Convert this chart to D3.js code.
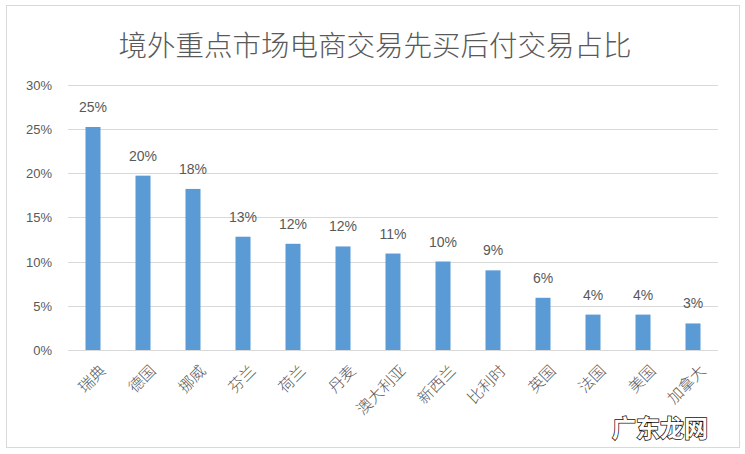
<!DOCTYPE html>
<html><head><meta charset="utf-8">
<script src="https://cdn.jsdelivr.net/npm/d3@7"></script>
<style>
body{margin:0;background:#fff;}
svg{display:block;}
</style></head>
<body>
<svg id="chart" width="745" height="454"></svg>
<script>
const title = "境外重点市场电商交易先买后付交易占比";
const categories = ["瑞典","德国","挪威","芬兰","荷兰","丹麦","澳大利亚","新西兰","比利时","英国","法国","美国","加拿大"];
const values = [0.252,0.197,0.182,0.128,0.120,0.117,0.109,0.100,0.090,0.059,0.040,0.040,0.030];
const labels = ["25%","20%","18%","13%","12%","12%","11%","10%","9%","6%","4%","4%","3%"];
const yTicks = [0,0.05,0.10,0.15,0.20,0.25,0.30];
const watermark = "广东龙网";

const svg = d3.select("#chart");
const textColor = "#595959";
const numFont = "'Liberation Sans','Noto Sans CJK SC',sans-serif";
const cjkFont = "'Noto Sans CJK SC','Noto Sans',sans-serif";

svg.append("rect").attr("x",6.5).attr("y",5.5).attr("width",733).attr("height",442)
  .attr("fill","#fff").attr("stroke","#d9d9d9").attr("stroke-width",1);

svg.append("text").attr("x",375).attr("y",56).attr("text-anchor","middle")
  .attr("font-family",cjkFont).attr("font-size",28.5).attr("font-weight",300)
  .attr("fill",textColor).text(title);

const x = d3.scaleBand().domain(categories).range([68,718]).paddingInner(0.7).paddingOuter(0.35);
const y = d3.scaleLinear().domain([0,0.30]).range([350,84.5]);

// gridlines
svg.append("g").selectAll("line").data(yTicks).join("line")
  .attr("x1",68).attr("x2",718)
  .attr("y1",d=>Math.round(y(d))+0.5).attr("y2",d=>Math.round(y(d))+0.5)
  .attr("stroke","#d9d9d9").attr("stroke-width",1);

// y axis labels
const yAxis = d3.axisLeft(y).tickValues(yTicks).tickFormat(d3.format(".0%")).tickSize(0).tickPadding(0);
const ya = svg.append("g").attr("transform","translate(52,0)").call(yAxis);
ya.select(".domain").remove();
ya.selectAll("text").attr("font-family",numFont).attr("font-size",13).attr("fill",textColor).attr("dy","0.35em");

// bars
svg.append("g").selectAll("rect").data(values).join("rect")
  .attr("x",(d,i)=>x(categories[i]))
  .attr("width",x.bandwidth())
  .attr("y",d=>y(d))
  .attr("height",d=>y(0)-y(d))
  .attr("fill","#5b9bd5");

// data labels
svg.append("g").selectAll("text").data(values).join("text")
  .attr("x",(d,i)=>x(categories[i])+x.bandwidth()/2)
  .attr("y",d=>y(d)-15)
  .attr("text-anchor","middle")
  .attr("font-family",numFont).attr("font-size",14).attr("fill",textColor)
  .text((d,i)=>labels[i]);

// x axis labels
const xAxis = d3.axisBottom(x).tickSize(0).tickPadding(0);
const xa = svg.append("g").attr("transform","translate(0,350)").call(xAxis);
xa.select(".domain").remove();
xa.selectAll("text")
  .attr("font-family",cjkFont).attr("font-size",15.5).attr("font-weight",300).attr("fill",textColor)
  .attr("text-anchor","end").attr("dy","0.35em")
  .attr("transform","translate(10,18) rotate(-45)");

// watermark
svg.append("text").attr("x",612).attr("y",437)
  .attr("font-family",cjkFont).attr("font-size",24).attr("font-weight","bold")
  .attr("fill","#fff").attr("stroke","#111").attr("stroke-width",1.5)
  .attr("paint-order","stroke")
  .text(watermark);
</script>
</body></html>
